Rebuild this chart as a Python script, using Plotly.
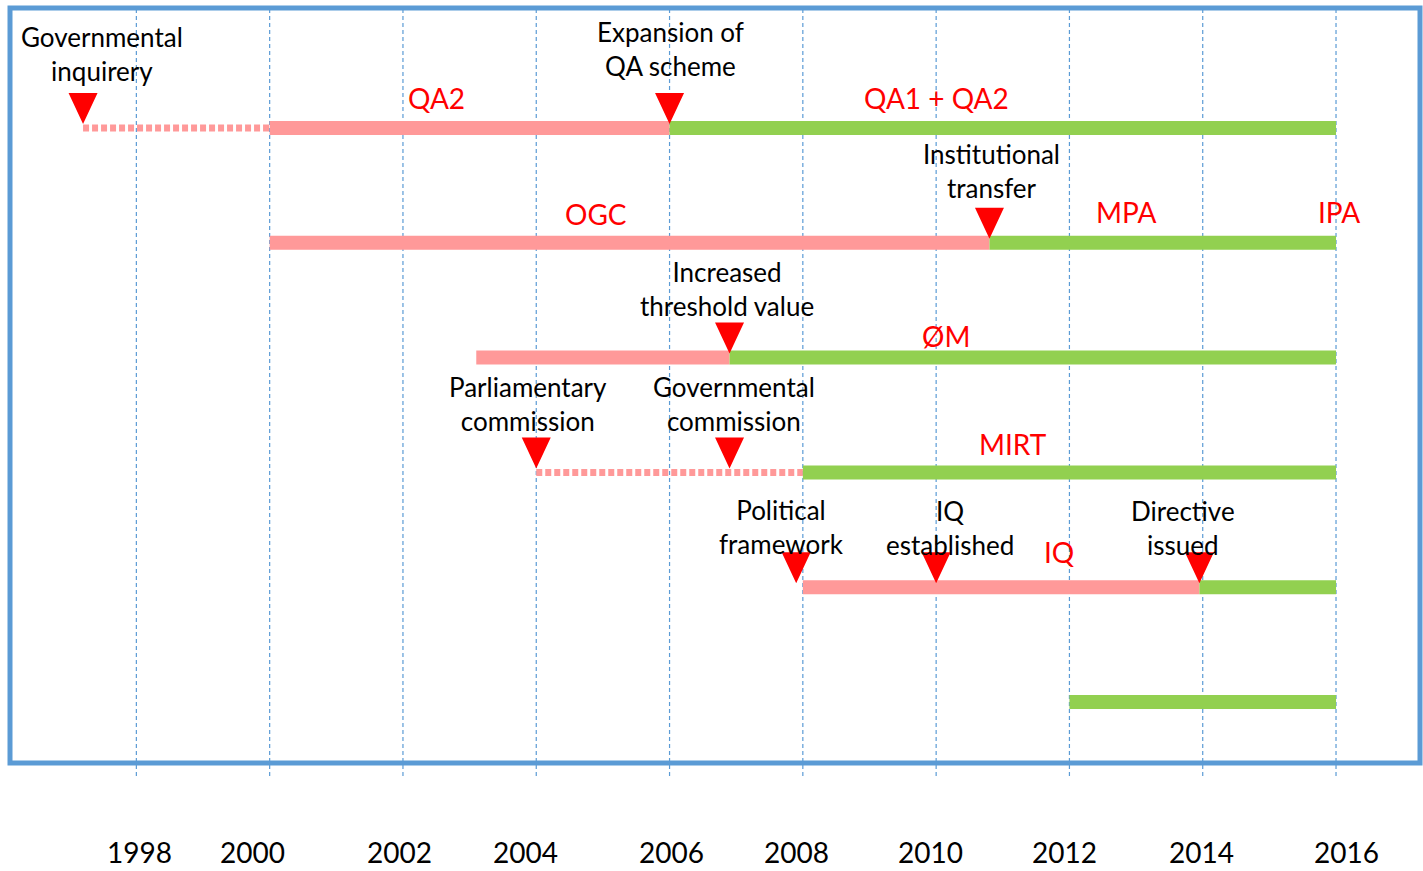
import plotly.graph_objects as go

# ---------------- data ----------------
years = [1998, 2000, 2002, 2004, 2006, 2008, 2010, 2012, 2014, 2016]
year_labels = [str(y) for y in years]

# timeline segments (row, start year, end year, status)
seg_rows   = [1, 1, 1, 2, 2, 3, 3, 4, 4, 5, 5, 6]
seg_starts = [1997.2, 2000, 2006, 2000, 2010.8, 2003.1, 2006.9, 2004, 2008, 2008, 2013.95, 2012]
seg_ends   = [2000, 2006, 2016, 2010.8, 2016, 2006.9, 2016, 2008, 2016, 2013.95, 2016, 2016]
seg_status = ["planned", "old", "new", "old", "new", "old", "new", "planned", "new", "old", "new", "new"]

# events (red triangles)
event_years = [1997.2, 2006, 2010.8, 2006.9, 2004, 2006.9, 2007.9, 2010, 2013.95]
event_rows = [1, 1, 2, 3, 4, 4, 5, 5, 5]
event_labels = ["Governmental<br>inquirery", "Expansion of<br>QA scheme", "Institutional<br>transfer",
                "Increased<br>threshold value", "Parliamentary<br>commission", "Governmental<br>commission",
                "Political<br>framework", "IQ<br>established", "Directive<br>issued"]

# scheme names (red labels)
scheme_labels = ["QA2", "QA1 + QA2", "OGC", "MPA", "IPA", "ØM", "MIRT", "IQ"]
scheme_years = [2002.5, 2010.0, 2004.9, 2012.85, 2016.05, 2010.15, 2011.15, 2011.85]
scheme_rows = [1, 1, 2, 2, 2, 3, 4, 5]

# ---------------- styles ----------------
FONT = "Lato"
PINK = "#FF9999"
GREEN = "#92D050"
RED = "#FF0000"
BLUE = "#5B9BD5"
W, H = 1423, 871
ML, MR, MT, MB = 10, 3, 8, 108
X_RANGE = [1996.104, 2017.26]
Y_RANGE = [6.5314, -0.0453]
px_per_year = (W - ML - MR) / (X_RANGE[1] - X_RANGE[0])
px_per_row = (H - MT - MB) / (Y_RANGE[0] - Y_RANGE[1])
plot_h = H - MT - MB

event_label_dx = [19, 1, 2, -3, -8, 4, -15, 14, -16]
event_label_dy = [74.5, 79.5, 72, 69, 68, 68.5, 60.5, 59.5, 59.5]
scheme_dy = [30, 30, 29, 31, 31, 22, 28, 35]
tick_dx = [3, -17, -3, -11, 2, -6, -6, -5, -1, 10]

fig = go.Figure()

for r, s, e, st in zip(seg_rows, seg_starts, seg_ends, seg_status):
    if st == "planned":
        line = dict(color=PINK, width=7, dash="6px,3px")
    elif st == "old":
        line = dict(color=PINK, width=14)
    else:
        line = dict(color=GREEN, width=14)
    fig.add_trace(go.Scatter(x=[s, e], y=[r, r], mode="lines", line=line,
                             hoverinfo="skip", showlegend=False))

# triangles
half_w = 14.5 / px_per_year
tip_off = 4 / px_per_row
top_off = 35 / px_per_row
tx, ty = [], []
for x, r in zip(event_years, event_rows):
    tx += [x - half_w, x + half_w, x, x - half_w, None]
    ty += [r - top_off, r - top_off, r - tip_off, r - top_off, None]
fig.add_trace(go.Scatter(x=tx, y=ty, mode="lines", fill="toself", fillcolor=RED,
                         line=dict(width=0, color=RED), hoverinfo="skip", showlegend=False))

# vertical dashed gridlines
for y in years:
    fig.add_shape(type="line", xref="x", yref="paper", x0=y, x1=y, y0=-13 / plot_h, y1=1,
                  line=dict(color=BLUE, width=1.2, dash="4px,3px"), layer="below")

# frame
fig.add_shape(type="rect", xref="paper", yref="paper", x0=0, x1=1, y0=0, y1=1,
              line=dict(color=BLUE, width=5))

for txt, x, r, dx, dy in zip(event_labels, event_years, event_rows, event_label_dx, event_label_dy):
    fig.add_annotation(x=x, y=r, text=txt, showarrow=False, xshift=dx, yshift=dy,
                       xanchor="center", yanchor="middle", align="center",
                       font=dict(family=FONT, size=26, color="black"))

for txt, x, r, dy in zip(scheme_labels, scheme_years, scheme_rows, scheme_dy):
    fig.add_annotation(x=x, y=r, text=txt, showarrow=False, yshift=dy,
                       xanchor="center", yanchor="middle",
                       font=dict(family=FONT, size=28, color=RED))

# year labels under the frame
for yv, lab, dx in zip(years, year_labels, tick_dx):
    fig.add_annotation(x=yv, y=-89 / plot_h, xref="x", yref="paper", text=lab,
                       showarrow=False, xshift=dx, xanchor="center", yanchor="middle",
                       font=dict(family=FONT, size=28, color="black"))

fig.update_layout(
    width=W, height=H,
    margin=dict(l=ML, r=MR, t=MT, b=MB),
    paper_bgcolor="white", plot_bgcolor="white",
    xaxis=dict(range=X_RANGE, showgrid=False, zeroline=False, showline=False,
               showticklabels=False, ticks=""),
    yaxis=dict(range=Y_RANGE, showgrid=False, zeroline=False, showline=False,
               showticklabels=False, ticks=""),
)

fig.write_html("out.html", config={"displayModeBar": False},
               post_script="document.body.style.margin='0';document.body.style.overflow='hidden';")
